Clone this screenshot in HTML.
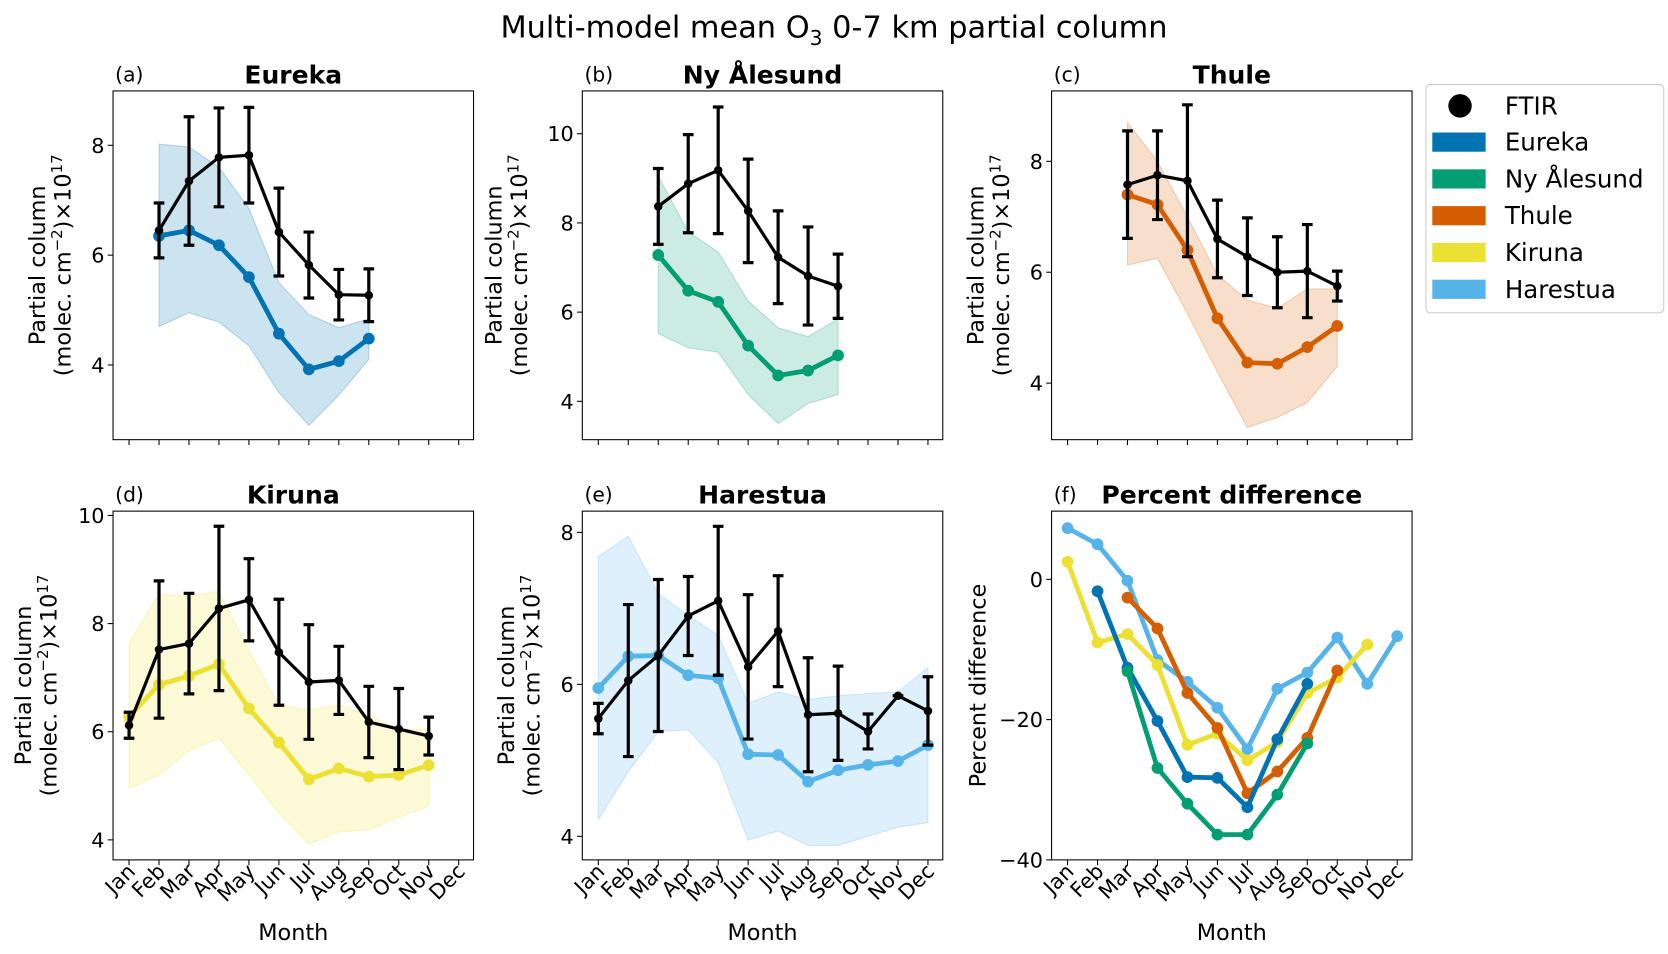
<!DOCTYPE html>
<html><head><meta charset="utf-8"><style>body{margin:0;background:#fff}svg{display:block}text{font-family:"DejaVu Sans","Liberation Sans",sans-serif}</style></head>
<body>
<svg id="fig" width="1668" height="954" viewBox="0 0 1564 894" xmlns="http://www.w3.org/2000/svg">
<text x="782" y="35" font-size="28.5" text-anchor="middle">Multi-model mean O<tspan font-size="19" dy="7">3</tspan><tspan dy="-7"> 0-7 km partial column</tspan></text>
</svg>
<script>
const months=["Jan","Feb","Mar","Apr","May","Jun","Jul","Aug","Sep","Oct","Nov","Dec"];
const colEureka="#0173b2",colNy="#029e73",colThule="#d55e00",colKiruna="#ece133",colHarestua="#56b4e9";
// Eureka (Feb..Sep)
const eurekaMonths=[1,2,3,4,5,6,7,8];
const eurekaFtir=[6.45,7.35,7.78,7.82,6.42,5.82,5.28,5.27];
const eurekaErr=[0.5,1.17,0.9,0.87,0.8,0.6,0.46,0.48];
const eurekaModel=[6.35,6.45,6.18,5.6,4.57,3.92,4.07,4.48];
const eurekaHi=[8.02,7.97,7.6,6.85,5.5,4.92,4.68,4.84];
const eurekaLo=[4.7,4.95,4.78,4.35,3.5,2.9,3.45,4.1];
// Ny Alesund (Mar..Sep)
const nyMonths=[2,3,4,5,6,7,8];
const nyFtir=[8.37,8.88,9.18,8.27,7.23,6.81,6.58];
const nyErr=[0.85,1.1,1.42,1.16,1.04,1.1,0.72];
const nyModel=[7.28,6.48,6.23,5.25,4.58,4.69,5.03];
const nyHi=[9.05,7.8,7.35,6.25,5.65,5.45,5.85];
const nyLo=[5.52,5.2,5.1,4.15,3.5,3.95,4.15];
// Thule (Mar..Oct)
const thuleMonths=[2,3,4,5,6,7,8,9];
const thuleFtir=[7.58,7.75,7.65,6.6,6.28,6.0,6.02,5.75];
const thuleErr=[0.97,0.8,1.37,0.7,0.7,0.64,0.84,0.27];
const thuleModel=[7.4,7.22,6.4,5.17,4.37,4.35,4.65,5.03];
const thuleHi=[8.7,8.0,7.0,5.95,5.5,5.35,5.7,5.7];
const thuleLo=[6.13,6.25,5.25,4.2,3.2,3.38,3.65,4.3];
// Kiruna (Jan..Nov)
const kirunaMonths=[0,1,2,3,4,5,6,7,8,9,10];
const kirunaFtir=[6.12,7.52,7.63,8.28,8.44,7.47,6.92,6.95,6.18,6.05,5.92];
const kirunaErr=[0.24,1.27,0.93,1.52,0.76,0.98,1.06,0.63,0.66,0.75,0.35];
const kirunaModel=[6.28,6.87,7.03,7.25,6.43,5.8,5.12,5.32,5.17,5.2,5.38];
const kirunaHi=[7.65,8.55,8.5,8.6,7.5,6.5,6.4,6.5,6.3,6.05,6.05];
const kirunaLo=[4.95,5.2,5.65,5.88,5.2,4.5,3.92,4.15,4.18,4.42,4.62];
// Harestua (Jan..Dec)
const harMonths=[0,1,2,3,4,5,6,7,8,9,10,11];
const harFtir=[5.55,6.05,6.38,6.9,7.1,6.23,6.7,5.6,5.62,5.38,5.85,5.65];
const harErr=[0.2,1.0,1.0,0.52,0.98,0.95,0.73,0.75,0.62,0.23,0.0,0.45];
const harModel=[5.95,6.37,6.38,6.12,6.08,5.08,5.07,4.72,4.87,4.94,4.99,5.2];
const harHi=[7.68,7.95,7.2,6.9,6.65,5.75,5.9,5.8,5.85,5.88,5.9,6.22];
const harLo=[4.22,4.85,5.38,5.4,4.97,3.95,4.07,3.88,3.88,4.0,4.12,4.18];
// Percent difference
const pctEureka=[-1.7,-12.6,-20.2,-28.2,-28.3,-32.5,-22.8,-14.9];
const pctNy=[-13.1,-26.9,-32,-36.4,-36.4,-30.7,-23.4];
const pctThule=[-2.6,-7,-16.2,-21.2,-30.5,-27.4,-22.6,-13];
const pctKiruna=[2.5,-9,-7.8,-12.2,-23.6,-22,-25.8,-23.2,-16.2,-14,-9.3];
const pctHarestua=[7.3,5.0,-0.2,-11.5,-14.6,-18.3,-24.2,-15.6,-13.3,-8.3,-14.9,-8.1];

const NS="http://www.w3.org/2000/svg";
const svg=document.getElementById('fig');
function mk(tag,attrs,parent,txt){const e=document.createElementNS(NS,tag);for(const k in attrs)e.setAttribute(k,attrs[k]);if(txt!==undefined)e.textContent=txt;(parent||svg).appendChild(e);return e;}
const PW=338,PH=327;
function panel(o){
  const g=mk('g',{});
  
  
  const L=o.x,T=o.y,B=T+PH;
  const xs=m=>L+15+m*28.1;
  const ys=v=>B-(v-o.ymin)/(o.ymax-o.ymin)*PH;
  months.forEach((m,i)=>{
    const t=mk('line',{x1:xs(i),x2:xs(i),y1:B,y2:B+5,stroke:'#000','stroke-width':1},g);
    
    
    if(o.bottom){
      const tx=mk('text',{x:xs(i)+7,y:B+12,'font-size':19.5,'text-anchor':'end',transform:`rotate(-45 ${xs(i)+7} ${B+12})`},g,m);
      
      
    }
  });
  o.yticks.forEach(v=>{
    const y=ys(v);
    const t=mk('line',{x1:L-5,x2:L,y1:y,y2:y,stroke:'#000','stroke-width':1},g);
    
    
    const tx=mk('text',{x:L-8,y:y+7,'font-size':19.5,'text-anchor':'end'},g,v<0?'\u2212'+(-v):String(v));
    
    
  });
  (o.series||[]).forEach(s=>{
    if(s.hi){
      let d='';s.months.forEach((m,i)=>{d+=(i?'L':'M')+xs(m)+','+ys(s.hi[i]);});
      for(let i=s.months.length-1;i>=0;i--)d+='L'+xs(s.months[i])+','+ys(s.lo[i]);
      const p=mk('path',{d:d+'Z',fill:s.color,'fill-opacity':0.2,stroke:s.color,'stroke-opacity':0.25},g);
      
      
    }
    const pts=s.months.map((m,i)=>xs(m)+','+ys(s.vals[i])).join(' ');
    const pl=mk('polyline',{points:pts,fill:'none',stroke:s.color,'stroke-width':s.lw,'stroke-linejoin':'round'},g);
    
    
    s.months.forEach((m,i)=>{
      const c=mk('circle',{cx:xs(m),cy:ys(s.vals[i]),r:s.r,fill:s.color},g);
      
      
    });
  });
  if(o.ftir){
    const f=o.ftir;
    f.months.forEach((m,i)=>{
      const x=xs(m),y1=ys(f.vals[i]+f.err[i]),y2=ys(f.vals[i]-f.err[i]);
      const e=mk('path',{d:`M${x},${y1}V${y2}M${x-5},${y1}H${x+5}M${x-5},${y2}H${x+5}`,stroke:'#000','stroke-width':3,fill:'none'},g);
      
      
    });
    const pts=f.months.map((m,i)=>xs(m)+','+ys(f.vals[i])).join(' ');
    const pl=mk('polyline',{points:pts,fill:'none',stroke:'#000','stroke-width':3,'stroke-linejoin':'round'},g);
    
    
    f.months.forEach((m,i)=>{
      const c=mk('circle',{cx:xs(m),cy:ys(f.vals[i]),r:4,fill:'#000'},g);
      
      
    });
  }
  const fr=mk('rect',{x:L,y:T,width:PW,height:PH,fill:'none',stroke:'#000','stroke-width':1},g);
  
  
  const tl=mk('text',{x:L+PW/2,y:T-7,'font-size':23.5,'font-weight':'bold','text-anchor':'middle'},g,o.title);
  
  
  const pl=mk('text',{x:L+2,y:T-9,'font-size':19},g,o.tag);
  
  
  const cy=T+PH/2;
  if(o.pct){
    const yl=mk('text',{x:0,y:0,'font-size':21,'text-anchor':'middle',transform:`translate(${L-62},${cy}) rotate(-90)`},g,'Percent difference');
    
    
  } else {
    const yl=mk('text',{x:0,y:0,'font-size':21,'text-anchor':'middle',transform:`translate(${L-o.yo},${cy}) rotate(-90)`},g,'Partial column');
    
    
    const y2=mk('text',{x:0,y:0,'font-size':21,'text-anchor':'middle',transform:`translate(${L-o.yo+24},${cy}) rotate(-90)`},g);
    
    
    y2.innerHTML='(molec. cm<tspan font-size="14" dy="-8">\u22122</tspan><tspan dy="8">)\u00d710</tspan><tspan font-size="14" dy="-8">17</tspan>';
  }
  if(o.bottom){
    const xl=mk('text',{x:L+PW/2,y:T+PH+75,'font-size':21,'text-anchor':'middle'},g,'Month');
    
    
  }
}
panel({name:'eureka',x:106,y:85,ymin:2.64,ymax:8.99,yticks:[4,6,8],title:'Eureka',tag:'(a)',yo:64,
  series:[{label:'eureka-model',months:eurekaMonths,vals:eurekaModel,hi:eurekaHi,lo:eurekaLo,color:colEureka,lw:4.5,r:5.5}],
  ftir:{months:eurekaMonths,vals:eurekaFtir,err:eurekaErr}});
panel({name:'ny-alesund',x:546,y:85,ymin:3.14,ymax:10.96,yticks:[4,6,8,10],title:'Ny Ålesund',tag:'(b)',yo:76,
  series:[{label:'ny-alesund-model',months:nyMonths,vals:nyModel,hi:nyHi,lo:nyLo,color:colNy,lw:4.5,r:5.5}],
  ftir:{months:nyMonths,vals:nyFtir,err:nyErr}});
panel({name:'thule',x:986,y:85,ymin:2.98,ymax:9.27,yticks:[4,6,8],title:'Thule',tag:'(c)',yo:64,
  series:[{label:'thule-model',months:thuleMonths,vals:thuleModel,hi:thuleHi,lo:thuleLo,color:colThule,lw:4.5,r:5.5}],
  ftir:{months:thuleMonths,vals:thuleFtir,err:thuleErr}});
panel({name:'kiruna',x:106,y:479,ymin:3.63,ymax:10.08,yticks:[4,6,8,10],title:'Kiruna',tag:'(d)',bottom:true,yo:77,
  series:[{label:'kiruna-model',months:kirunaMonths,vals:kirunaModel,hi:kirunaHi,lo:kirunaLo,color:colKiruna,lw:4.5,r:5.5}],
  ftir:{months:kirunaMonths,vals:kirunaFtir,err:kirunaErr}});
panel({name:'harestua',x:546,y:479,ymin:3.69,ymax:8.28,yticks:[4,6,8],title:'Harestua',tag:'(e)',bottom:true,yo:64,
  series:[{label:'harestua-model',months:harMonths,vals:harModel,hi:harHi,lo:harLo,color:colHarestua,lw:4.5,r:5.5}],
  ftir:{months:harMonths,vals:harFtir,err:harErr}});
panel({name:'percent-difference',x:986,y:479,ymin:-40,ymax:9.73,yticks:[-40,-20,0],title:'Percent difference',tag:'(f)',bottom:true,pct:true,
  series:[
   {label:'pct-harestua',months:harMonths,vals:pctHarestua,color:colHarestua,lw:4.5,r:5.5},
   {label:'pct-kiruna',months:kirunaMonths,vals:pctKiruna,color:colKiruna,lw:4.5,r:5.5},
   {label:'pct-thule',months:thuleMonths,vals:pctThule,color:colThule,lw:4.5,r:5.5},
   {label:'pct-eureka',months:eurekaMonths,vals:pctEureka,color:colEureka,lw:4.5,r:5.5},
   {label:'pct-ny-alesund',months:nyMonths,vals:pctNy,color:colNy,lw:4.5,r:5.5}]});
const lg=mk('g',{});


const lr=mk('rect',{x:1337,y:79,width:223,height:214,rx:4,fill:'#fff',stroke:'#ccc'},lg);


const lc=mk('circle',{cx:1369,cy:99,r:11,fill:'#000'},lg);


const lt=mk('text',{x:1411,y:107,'font-size':23},lg,'FTIR');


const legNames=["Eureka","Ny Ålesund","Thule","Kiruna","Harestua"];
const legCols=[colEureka,colNy,colThule,colKiruna,colHarestua];
legNames.forEach((n,i)=>{
  const y=133+i*34.5;
  const r=mk('rect',{x:1343,y:y-9,width:50,height:18,fill:legCols[i]},lg);
  
  
  const t=mk('text',{x:1411,y:y+8,'font-size':23},lg,n);
  
  
});
</script>
</body></html>
